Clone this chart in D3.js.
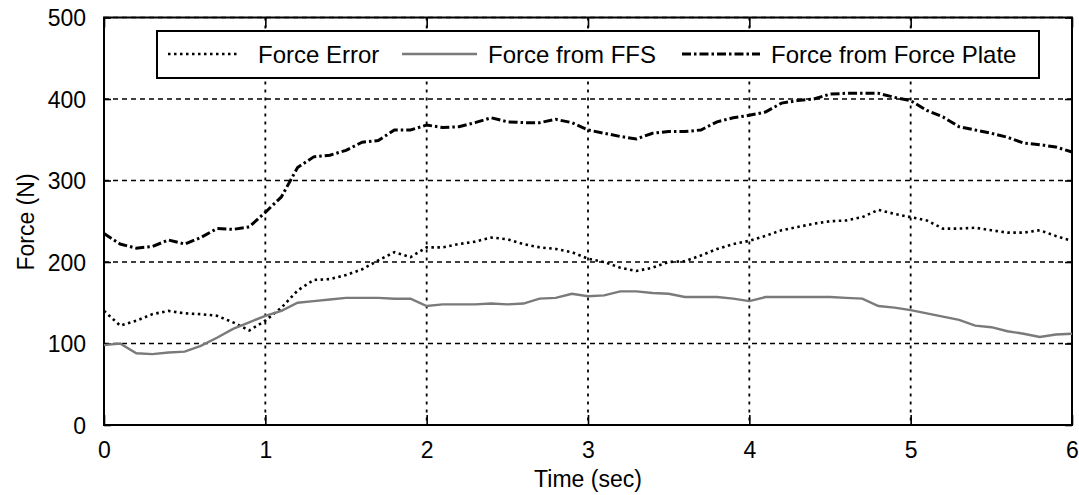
<!DOCTYPE html>
<html>
<head>
<meta charset="utf-8">
<script src="https://cdn.jsdelivr.net/npm/d3@7"></script>
<style>
  body { margin: 0; background: #fff; }
  svg text { font-family: "Liberation Sans", Arial, sans-serif; fill: #000; }
</style>
</head>
<body>
<svg id="chart" width="1079" height="495"></svg>
<script>
// sample times (sec)
var time = [0,0.1,0.2,0.3,0.4,0.5,0.6,0.7,0.8,0.9,
  1,1.1,1.2,1.3,1.4,1.5,1.6,1.7,1.8,1.9,
  2,2.1,2.2,2.3,2.4,2.5,2.6,2.7,2.8,2.9,
  3,3.1,3.2,3.3,3.4,3.5,3.6,3.7,3.8,3.9,
  4,4.1,4.2,4.3,4.4,4.5,4.6,4.7,4.8,4.9,
  5,5.1,5.2,5.3,5.4,5.5,5.6,5.7,5.8,5.9,6];

var forceError = [140,122,128,136,140,137,136,134,126,116,
  128,144,165,178,179,184,191,202,212,206,
  218,218,222,225,230,228,222,218,216,212,
  204,200,193,189,193,200,201,208,216,222,
  226,232,239,243,247,250,251,255,264,259,
  255,251,241,241,242,239,236,236,239,232,226];

var forceFFS = [98,100,88,87,89,90,97,107,118,126,
  134,140,150,152,154,156,156,156,155,155,
  146,148,148,148,149,148,149,155,156,161,
  158,159,164,164,162,161,157,157,157,155,
  152,157,157,157,157,157,156,155,146,144,
  141,137,133,129,122,120,115,112,108,111,112];

var forcePlate = [235,222,217,219,227,222,230,241,240,243,
  261,280,316,329,331,337,347,349,362,362,
  368,365,366,371,377,372,371,371,375,371,
  362,358,354,351,358,360,360,362,372,377,
  380,384,395,398,400,406,407,407,407,402,
  398,386,378,366,362,358,353,346,344,341,335];

var xTicks = [0,1,2,3,4,5,6];
var yTicks = [0,100,200,300,400,500];
var legendLabels = ['Force Error', 'Force from FFS', 'Force from Force Plate'];

var plotLeft = 104, plotRight = 1072, plotTop = 17.5, plotBottom = 425;

var svg = d3.select('#chart');

var x = d3.scaleLinear().domain([0, 6]).range([plotLeft, plotRight]);
var y = d3.scaleLinear().domain([0, 500]).range([plotBottom, plotTop]);

// grid
svg.append('g').selectAll('line')
  .data(yTicks.slice(1))
  .enter().append('line')
  .attr('x1', plotLeft).attr('x2', plotRight)
  .attr('y1', d => y(d)).attr('y2', d => y(d))
  .attr('stroke', '#000').attr('stroke-width', 1.6)
  .attr('stroke-dasharray', '5,4');

svg.append('g').selectAll('line')
  .data(xTicks.slice(1, -1))
  .enter().append('line')
  .attr('x1', d => x(d)).attr('x2', d => x(d))
  .attr('y1', plotTop).attr('y2', plotBottom)
  .attr('stroke', '#000').attr('stroke-width', 1.8)
  .attr('stroke-dasharray', '3,5');

// axes with inward ticks
var xAxis = d3.axisBottom(x).tickValues(xTicks).tickSize(-10).tickPadding(20).tickFormat(d3.format('d'));
var yAxis = d3.axisLeft(y).tickValues(yTicks).tickSize(-7).tickPadding(18).tickFormat(d3.format('d'));

var gx = svg.append('g').attr('transform', 'translate(0,' + plotBottom + ')').call(xAxis);
var gy = svg.append('g').attr('transform', 'translate(' + plotLeft + ',0)').call(yAxis);
svg.append('g').attr('transform', 'translate(0,' + plotTop + ')')
  .call(d3.axisTop(x).tickValues(xTicks).tickSize(-10).tickFormat(''));
svg.append('g').attr('transform', 'translate(' + plotRight + ',0)')
  .call(d3.axisRight(y).tickValues(yTicks).tickSize(-7).tickFormat(''));

svg.selectAll('.domain').remove();
svg.selectAll('.tick line').attr('stroke', '#000').attr('stroke-width', 1.6);
gx.selectAll('text').style('font-size', '23px').attr('dy', '0.55em');
gy.selectAll('text').style('font-size', '23px').attr('dy', '0.36em');

// frame
svg.append('rect')
  .attr('x', plotLeft).attr('y', plotTop)
  .attr('width', plotRight - plotLeft).attr('height', plotBottom - plotTop)
  .attr('fill', 'none').attr('stroke', '#000').attr('stroke-width', 2);

// lines
var line = d3.line().x((d, i) => x(time[i])).y(d => y(d));

var styles = [
  { data: forceError, color: '#000', width: 2.6, dash: '2.5,3.5' },
  { data: forceFFS, color: '#7a7a7a', width: 2.4, dash: null },
  { data: forcePlate, color: '#000', width: 3, dash: '9,3,2.5,3' }
];

styles.forEach(s => {
  svg.append('path')
    .datum(s.data)
    .attr('d', line)
    .attr('fill', 'none')
    .attr('stroke', s.color)
    .attr('stroke-width', s.width)
    .attr('stroke-dasharray', s.dash);
});

// legend
svg.append('rect')
  .attr('x', 157).attr('y', 31).attr('width', 882).attr('height', 47)
  .attr('fill', '#fff').attr('stroke', '#000').attr('stroke-width', 2);

var legendPos = [[168, 240, 258], [402, 477, 488], [682, 760, 771]];
legendLabels.forEach((lab, i) => {
  var p = legendPos[i];
  svg.append('line')
    .attr('x1', p[0]).attr('x2', p[1]).attr('y1', 54).attr('y2', 54)
    .attr('stroke', styles[i].color)
    .attr('stroke-width', styles[i].width)
    .attr('stroke-dasharray', styles[i].dash);
  svg.append('text')
    .attr('x', p[2]).attr('y', 63)
    .style('font-size', '24px')
    .text(lab);
});

// axis titles
svg.append('text')
  .attr('x', 588).attr('y', 487)
  .attr('text-anchor', 'middle')
  .style('font-size', '23px')
  .text('Time (sec)');

svg.append('text')
  .attr('transform', 'translate(34,222) rotate(-90)')
  .attr('text-anchor', 'middle')
  .style('font-size', '23px')
  .text('Force (N)');
</script>
</body>
</html>
